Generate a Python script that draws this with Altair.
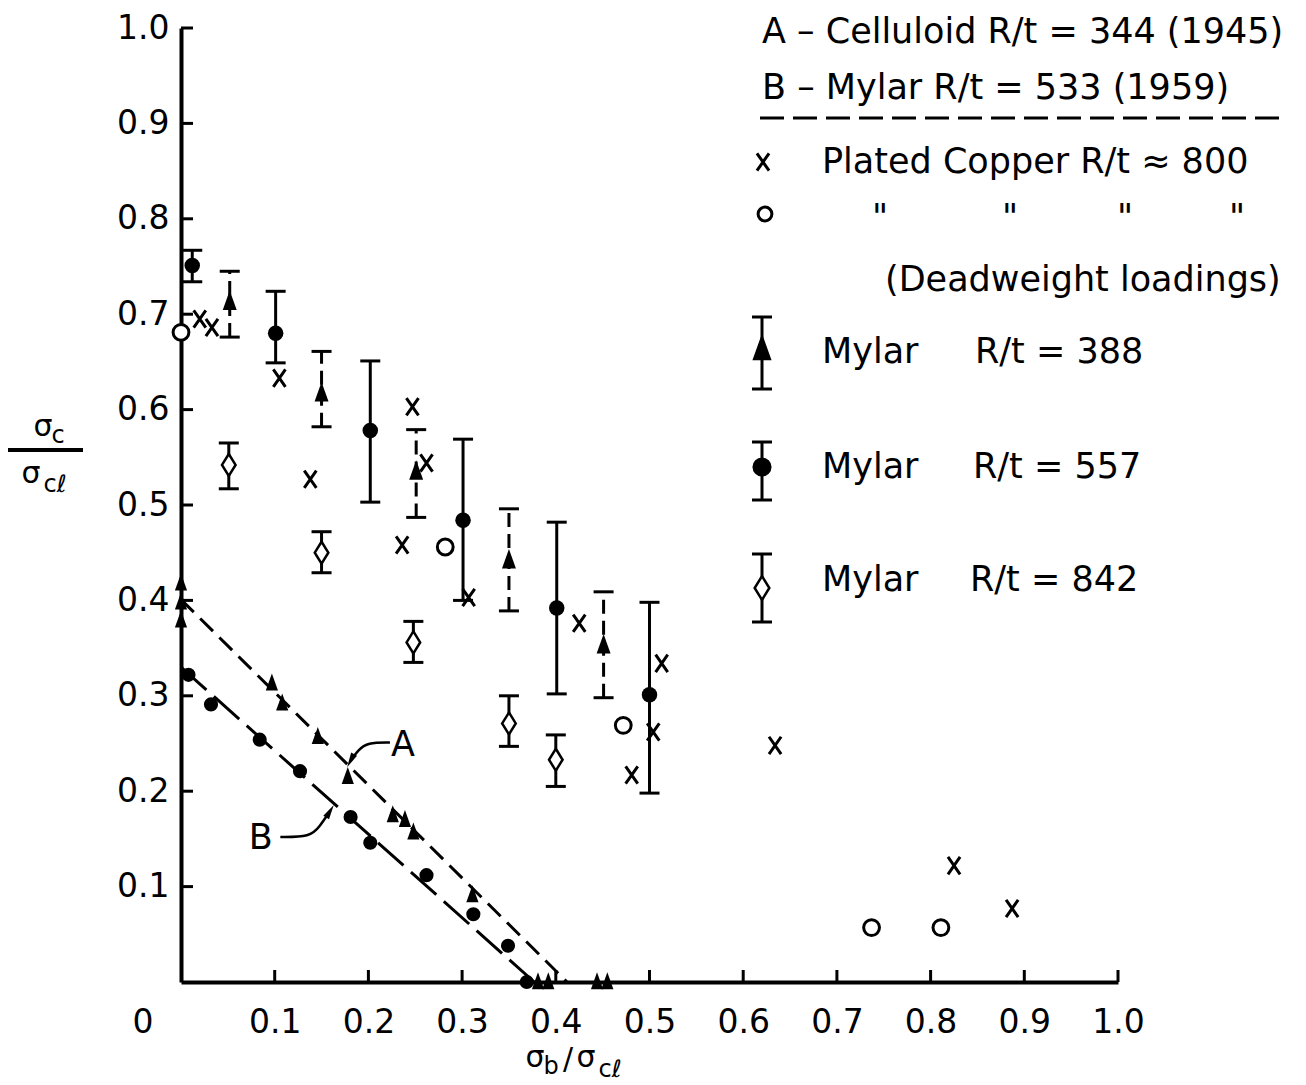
import altair as alt
import pandas as pd

# ---------------- data (sigma_b / sigma_cl , sigma_c / sigma_cl) ----------------
# Plated copper, R/t ~ 800 (crosses)
copper_x = [0.020, 0.033, 0.105, 0.138, 0.247, 0.262, 0.236, 0.307, 0.425, 0.513, 0.504, 0.481, 0.634, 0.825, 0.887]
copper_y = [0.695, 0.686, 0.633, 0.527, 0.603, 0.544, 0.458, 0.403, 0.376, 0.334, 0.262, 0.217, 0.248, 0.122, 0.077]

# Plated copper, deadweight loadings (open circles)
dead_x = [0.000, 0.282, 0.472, 0.737, 0.811]
dead_y = [0.681, 0.456, 0.269, 0.057, 0.057]

# Mylar R/t = 388 (filled triangles with scatter bands)
m388_x = [0.052, 0.150, 0.251, 0.350, 0.451]
m388_y = [0.713, 0.617, 0.535, 0.442, 0.353]
m388_lo = [0.676, 0.582, 0.487, 0.389, 0.298]
m388_hi = [0.745, 0.661, 0.579, 0.496, 0.409]

# Mylar R/t = 557 (filled circles with scatter bands)
m557_x = [0.012, 0.101, 0.202, 0.301, 0.401, 0.500]
m557_y = [0.751, 0.680, 0.578, 0.484, 0.392, 0.301]
m557_lo = [0.734, 0.649, 0.503, 0.400, 0.302, 0.198]
m557_hi = [0.767, 0.724, 0.651, 0.569, 0.482, 0.398]

# Mylar R/t = 842 (open diamonds with scatter bands)
m842_x = [0.051, 0.150, 0.248, 0.350, 0.400]
m842_y = [0.542, 0.450, 0.356, 0.271, 0.233]
m842_lo = [0.517, 0.429, 0.335, 0.247, 0.205]
m842_hi = [0.565, 0.472, 0.378, 0.300, 0.259]

# A - Celluloid R/t = 344 (1945)
cell_x = [0.000, 0.000, 0.000, 0.097, 0.108, 0.146, 0.178, 0.226, 0.239, 0.248, 0.311, 0.381, 0.392, 0.444, 0.455]
cell_y = [0.418, 0.398, 0.379, 0.313, 0.292, 0.257, 0.215, 0.175, 0.170, 0.157, 0.091, 0.000, 0.000, 0.000, 0.000]

# B - Mylar R/t = 533 (1959)
my59_x = [0.008, 0.032, 0.084, 0.127, 0.181, 0.202, 0.262, 0.312, 0.349, 0.369]
my59_y = [0.322, 0.291, 0.254, 0.221, 0.173, 0.146, 0.112, 0.071, 0.038, 0.000]

# straight-line fits through series A and B
line_a_x = [0.000, 0.412]
line_a_y = [0.401, 0.000]
line_b_x = [0.000, 0.377]
line_b_y = [0.330, 0.000]

# leader arrows for the "A" and "B" labels
lead_a_x = [0.223, 0.199, 0.189, 0.181]
lead_a_y = [0.251, 0.251, 0.243, 0.232]
lead_b_x = [0.106, 0.138, 0.148, 0.159]
lead_b_y = [0.152, 0.152, 0.163, 0.179]
label_x = [0.237, 0.085]
label_y = [0.248, 0.151]
label_txt = ["A", "B"]

tick_values = [0.1, 0.2, 0.3, 0.4, 0.5, 0.6, 0.7, 0.8, 0.9, 1.0]

# ---------------- helpers ----------------
FONT = "DejaVu Sans"
W, H = 937, 954
sx = alt.Scale(domain=[0, 1], nice=False, zero=False)
sy = alt.Scale(domain=[0, 1], nice=False, zero=False)

axis_common = dict(
    values=tick_values, format=".1f", tickSize=0, labelFont=FONT, labelFontSize=33,
    labelColor="black", domainColor="black", domainWidth=4, grid=False, title="",
    labelOverlap=False, labelFlush=False,
)
AX_X = alt.Axis(labelPadding=24, **axis_common)
AX_Y = alt.Axis(labelPadding=12, **axis_common)


def ex(f="x"):
    return alt.X(f"{f}:Q", scale=sx, axis=AX_X)


def ey(f="y"):
    return alt.Y(f"{f}:Q", scale=sy, axis=AX_Y)


def frame(**cols):
    return pd.DataFrame(cols)


X_SHAPE = "M-0.7,-1L0.7,1M-0.7,1L0.7,-1"
TRI_SHAPE = "M0,-1.1L0.68,0.8L-0.68,0.8Z"
DIA_SHAPE = "M0,-1L0.62,0L0,1L-0.62,0Z"
CAP_SHAPE = "M-1,0L1,0"
HEAD_SHAPE = "M0,-1L0.45,1L-0.45,1Z"

one = alt.Data(values=[{"k": 0}])


def txt(s, px, py, size=35, align="left", baseline="middle"):
    return alt.Chart(one).mark_text(
        text=s, align=align, baseline=baseline, fontSize=size, font=FONT, color="black"
    ).encode(x=alt.value(px), y=alt.value(py))


def vrule(px, y1, y2, dash=None, width=3):
    kw = dict(color="black", strokeWidth=width)
    if dash:
        kw["strokeDash"] = dash
    return alt.Chart(one).mark_rule(**kw).encode(
        x=alt.value(px), y=alt.value(y1), y2=alt.value(y2))


def hrule(x1, x2, py, dash=None, width=3):
    kw = dict(color="black", strokeWidth=width)
    if dash:
        kw["strokeDash"] = dash
    return alt.Chart(one).mark_rule(**kw).encode(
        x=alt.value(x1), x2=alt.value(x2), y=alt.value(py))


def glyph(px, py, shape, size, filled=True, fill="black", sw=3):
    return alt.Chart(one).mark_point(
        shape=shape, size=size, filled=filled, fill=fill, stroke="black",
        strokeWidth=sw, opacity=1
    ).encode(x=alt.value(px), y=alt.value(py))


# ---------------- axes with inward ticks ----------------
ticks = frame(v=tick_values)
x_axis_layer = alt.Chart(ticks).mark_rule(color="black", strokeWidth=3).encode(
    x=ex("v"), y=alt.value(H), y2=alt.value(H - 12),
)
y_axis_layer = alt.Chart(ticks).mark_rule(color="black", strokeWidth=3).encode(
    y=ey("v"), x=alt.value(0), x2=alt.value(12),
)

# ---------------- fitted lines ----------------
line_a = alt.Chart(frame(x=line_a_x, y=line_a_y)).mark_line(
    color="black", strokeWidth=3, strokeDash=[18, 9]).encode(x=ex(), y=ey())
line_b = alt.Chart(frame(x=line_b_x, y=line_b_y)).mark_line(
    color="black", strokeWidth=3, strokeDash=[34, 10]).encode(x=ex(), y=ey())

cell_pts = alt.Chart(frame(x=cell_x, y=cell_y)).mark_point(
    shape=TRI_SHAPE, filled=True, color="black", size=320, opacity=1).encode(x=ex(), y=ey())
my59_pts = alt.Chart(frame(x=my59_x, y=my59_y)).mark_point(
    shape="circle", filled=True, color="black", size=200, opacity=1).encode(x=ex(), y=ey())


# ---------------- scatter-band series ----------------
def bands(xs, ys, lo, hi, dash=None):
    df = frame(x=xs, y=ys, lo=lo, hi=hi)
    kw = dict(color="black", strokeWidth=3)
    if dash:
        kw["strokeDash"] = dash
    bar = alt.Chart(df).mark_rule(**kw).encode(x=ex(), y=ey("lo"), y2=alt.Y2("hi:Q"))
    caps = alt.Chart(df).transform_fold(["lo", "hi"], as_=["end", "yv"]).mark_point(
        shape=CAP_SHAPE, size=400, filled=False, color="black", strokeWidth=3, opacity=1
    ).encode(x=ex(), y=ey("yv"))
    return bar, caps


b388, c388 = bands(m388_x, m388_y, m388_lo, m388_hi, dash=[14, 7])
b557, c557 = bands(m557_x, m557_y, m557_lo, m557_hi)
b842, c842 = bands(m842_x, m842_y, m842_lo, m842_hi)

p388 = alt.Chart(frame(x=m388_x, y=m388_y)).mark_point(
    shape=TRI_SHAPE, filled=True, color="black", size=420, opacity=1).encode(x=ex(), y=ey())
p557 = alt.Chart(frame(x=m557_x, y=m557_y)).mark_point(
    shape="circle", filled=True, color="black", size=240, opacity=1).encode(x=ex(), y=ey())
p842 = alt.Chart(frame(x=m842_x, y=m842_y)).mark_point(
    shape=DIA_SHAPE, filled=True, fill="white", stroke="black", strokeWidth=2.5,
    size=480, opacity=1).encode(x=ex(), y=ey())

copper = alt.Chart(frame(x=copper_x, y=copper_y)).mark_point(
    shape=X_SHAPE, filled=False, color="black", strokeWidth=3, size=300, opacity=1
).encode(x=ex(), y=ey())
dead = alt.Chart(frame(x=dead_x, y=dead_y)).mark_point(
    shape="circle", filled=True, fill="white", stroke="black", strokeWidth=3, size=250,
    opacity=1).encode(x=ex(), y=ey())

# ---------------- A / B labels with leader arrows ----------------
lead_a = alt.Chart(frame(x=lead_a_x, y=lead_a_y, o=list(range(len(lead_a_x))))).mark_line(
    color="black", strokeWidth=2.5, interpolate="basis").encode(x=ex(), y=ey(), order="o:O")
lead_b = alt.Chart(frame(x=lead_b_x, y=lead_b_y, o=list(range(len(lead_b_x))))).mark_line(
    color="black", strokeWidth=2.5, interpolate="basis").encode(x=ex(), y=ey(), order="o:O")
head_a = alt.Chart(frame(x=[lead_a_x[-1]], y=[lead_a_y[-1]])).mark_point(
    shape=HEAD_SHAPE, angle=208, filled=True, color="black", size=220, opacity=1
).encode(x=ex(), y=ey())
head_b = alt.Chart(frame(x=[lead_b_x[-1]], y=[lead_b_y[-1]])).mark_point(
    shape=HEAD_SHAPE, angle=31, filled=True, color="black", size=220, opacity=1
).encode(x=ex(), y=ey())
labels = alt.Chart(frame(x=label_x, y=label_y, t=label_txt)).mark_text(
    font=FONT, fontSize=35, color="black", align="center", baseline="middle"
).encode(x=ex(), y=ey(), text="t:N")

# ---------------- key (upper right) ----------------
key = [
    txt("A – Celluloid R/t = 344 (1945)", 581, 4),
    txt("B – Mylar R/t = 533 (1959)", 581, 60),
    hrule(579, 1104, 90, dash=[24, 9]),
    glyph(582, 134, X_SHAPE, 300, filled=False, fill="none"),
    txt("Plated Copper R/t ≈ 800", 641, 134),
    glyph(584, 186, "circle", 190, filled=True, fill="white"),
    txt("\"", 699, 201, baseline="alphabetic", align="center"),
    txt("\"", 829, 201, baseline="alphabetic", align="center"),
    txt("\"", 944, 201, baseline="alphabetic", align="center"),
    txt("\"", 1056, 201, baseline="alphabetic", align="center"),
    txt("(Deadweight loadings)", 704, 252),
    # Mylar 388
    vrule(581, 289, 361),
    hrule(571, 591, 289), hrule(571, 591, 361),
    glyph(581, 322, TRI_SHAPE, 480),
    txt("Mylar", 641, 324), txt("R/t = 388", 794, 324),
    # Mylar 557
    vrule(581, 414, 472),
    hrule(571, 591, 414), hrule(571, 591, 472),
    glyph(581, 439, "circle", 260),
    txt("Mylar", 641, 439), txt("R/t = 557", 792, 439),
    # Mylar 842
    vrule(581, 526, 594),
    hrule(571, 591, 526), hrule(571, 591, 594),
    glyph(581, 560, DIA_SHAPE, 560, filled=True, fill="white", sw=2.5),
    txt("Mylar", 641, 552), txt("R/t = 842", 789, 552),
]

# ---------------- axis titles (built from pieces for subscripts) ----------------
titles = [
    # origin label
    txt("0", -38, 995, size=33, align="center"),
    # vertical axis: sigma_c / sigma_cl
    txt("σ", -138, 399, size=30, align="center"),
    txt("c", -123, 408, size=24, align="center"),
    hrule(-173, -98, 422, width=4),
    txt("σ", -150, 446, size=30, align="center"),
    txt("cℓ", -126, 457, size=24, align="center"),
    # horizontal axis: sigma_b / sigma_cl
    txt("σ", 354, 1030, size=30, align="center"),
    txt("b", 370, 1039, size=24, align="center"),
    txt("/", 387, 1032, size=30, align="center"),
    txt("σ", 405, 1030, size=30, align="center"),
    txt("cℓ", 429, 1042, size=24, align="center"),
]

layers = [
    x_axis_layer, y_axis_layer,
    line_a, line_b, cell_pts, my59_pts,
    b388, b557, b842, c388, c557, c842,
    p388, p557, p842, copper, dead,
    lead_a, lead_b, head_a, head_b, labels,
] + key + titles

chart = alt.layer(*layers).properties(
    width=W, height=H,
    padding={"left": 181, "top": 28, "right": 188, "bottom": 103},
    autosize=alt.AutoSizeParams(type="none"),
    background="white",
).configure_view(strokeWidth=0)

chart.save("out.html", embed_options={"renderer": "svg", "actions": False})
